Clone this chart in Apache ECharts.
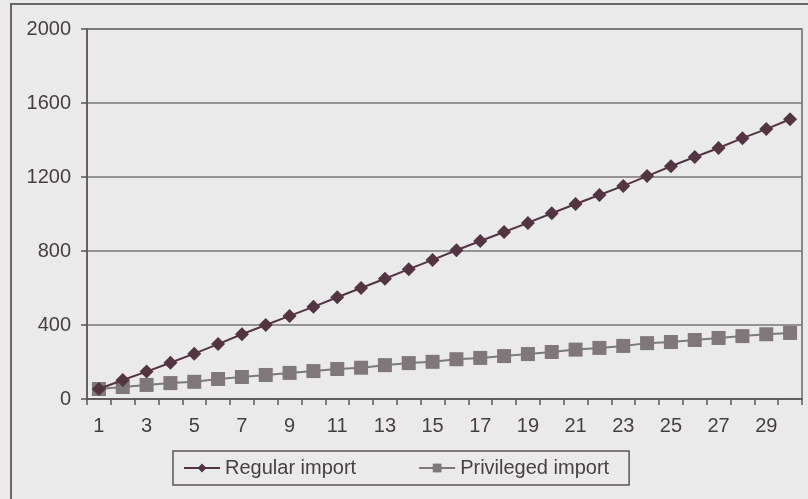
<!DOCTYPE html>
<html>
<head>
<meta charset="utf-8">
<script src="https://cdn.jsdelivr.net/npm/echarts@6/dist/echarts.min.js"></script>
<style>
  html, body { margin: 0; padding: 0; background: #ebeaea; }
  #chart { width: 808px; height: 499px; }
</style>
</head>
<body>
<div id="chart"></div>
<script>
// Periods 1..30
const periods = Array.from({ length: 30 }, (_, i) => String(i + 1));

// Cumulative import values per period
const regularImport = [54, 103, 148, 196, 245, 297, 350, 400, 449, 498,
  550, 600, 650, 702, 752, 804, 854, 903, 952, 1004,
  1054, 1103, 1152, 1205, 1258, 1308, 1357, 1410, 1459, 1512];
const privilegedImport = [54, 65, 76, 86, 93, 108, 119, 130, 141, 151,
  162, 169, 183, 194, 201, 215, 222, 232, 243, 254,
  267, 276, 287, 302, 308, 319, 330, 340, 350, 357];

const yTicks = [0, 400, 800, 1200, 1600, 2000];

const textColor = '#463f41';
const fontFamily = '"Liberation Sans", Arial, sans-serif';

const chart = echarts.init(document.getElementById('chart'));
chart.setOption({
  backgroundColor: '#ebeaea',
  animation: false,
  textStyle: { fontFamily: fontFamily, color: textColor },
  graphic: [{
    type: 'rect',
    shape: { x: 11, y: 4, width: 820, height: 520 },
    style: { fill: 'none', stroke: '#6a6566', lineWidth: 2 },
    z: -1
  }],
  grid: {
    left: 87, right: 6, top: 29, bottom: 100,
    show: true, borderColor: '#6a6566', borderWidth: 1.5, backgroundColor: 'transparent'
  },
  legend: {
    left: 173, top: 451,
    width: 457, height: 36,
    padding: [7, 20, 7, 10],
    borderColor: '#5a5556', borderWidth: 1.5,
    itemWidth: 36, itemHeight: 11, itemGap: 62,
    textStyle: { fontSize: 20, color: textColor, fontFamily: fontFamily },
    data: ['Regular import', 'Privileged import']
  },
  xAxis: {
    type: 'category',
    data: periods,
    boundaryGap: true,
    axisLine: { lineStyle: { color: '#5a5556', width: 1.5 } },
    axisTick: { show: true, interval: 0, length: 6, lineStyle: { color: '#5a5556', width: 1.5 } },
    axisLabel: { interval: 1, fontSize: 20, color: textColor, margin: 17 },
    splitLine: { show: false }
  },
  yAxis: {
    type: 'value',
    min: 0, max: 2000, interval: 400,
    axisLine: { show: true, lineStyle: { color: '#5a5556', width: 1.5 } },
    axisTick: { show: true, inside: false, length: 6, lineStyle: { color: '#5a5556', width: 1.5 } },
    axisLabel: {
      fontSize: 20, color: textColor, margin: 16,
      formatter: (v) => String(v)
    },
    splitLine: { show: true, lineStyle: { color: '#7a7576', width: 1.5 } }
  },
  series: [
    {
      name: 'Regular import',
      type: 'line',
      data: regularImport,
      symbol: 'diamond',
      symbolSize: 14,
      itemStyle: { color: '#523540' },
      lineStyle: { color: '#523540', width: 2 },
      z: 3
    },
    {
      name: 'Privileged import',
      type: 'line',
      data: privilegedImport,
      symbol: 'rect',
      symbolSize: 14,
      itemStyle: { color: '#7f7779' },
      lineStyle: { color: '#7f7779', width: 2 },
      z: 2
    }
  ]
});
</script>
</body>
</html>
